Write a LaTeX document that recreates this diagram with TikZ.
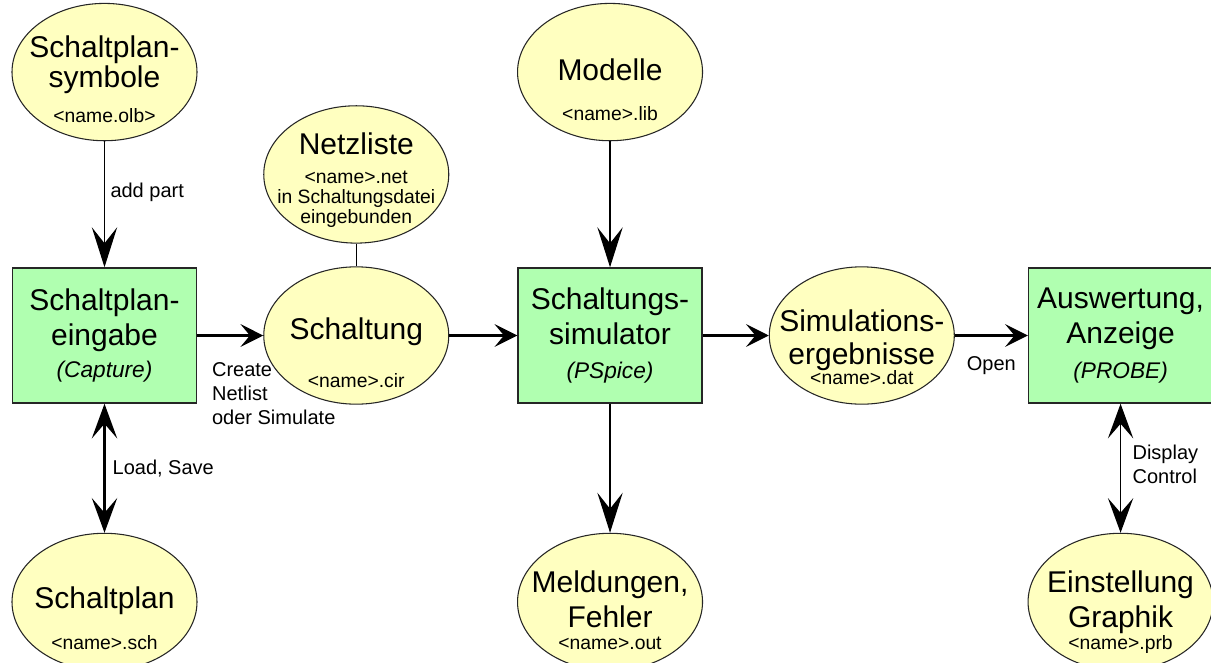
\documentclass[tikz,border=0pt]{standalone}
\usepackage{fontspec}
\setmainfont{Liberation Sans}
\usepackage{tikz}
\usetikzlibrary{positioning,shapes,arrows.meta}

\definecolor{boxgruen}{RGB}{176,255,176}
\definecolor{ovalgelb}{RGB}{255,255,192}
\newcommand{\titel}{\fontsize{22.5}{26}\selectfont}
\newcommand{\klein}{\fontsize{14.5}{16}\selectfont}
\newcommand{\prog}{\fontsize{17}{20}\selectfont\itshape}

\begin{document}
\begin{tikzpicture}[
    x=0.75pt,
    y=-0.75pt,
    >={Stealth[length=26pt,width=19pt,inset=11pt]},
    programm/.style={
        rectangle,
        draw=black!85,
        line width=1.1pt,
        fill=boxgruen,
        minimum width=138pt,
        minimum height=101.25pt,
        align=center,
        font=\titel
    },
    datei/.style={
        ellipse,
        draw=black!85,
        line width=0.8pt,
        fill=ovalgelb,
        minimum width=138.75pt,
        minimum height=103pt,
        inner sep=0pt
    },
    dateitext/.style={align=center, font=\titel, inner sep=0pt},
    duenn/.style={line width=1pt, -{Stealth[length=30pt,width=19pt,inset=12pt]}},
    dick/.style={line width=2.25pt, -{Stealth[length=17pt,width=17pt,inset=7pt]}},
    beschriftung/.style={font=\fontsize{15}{18}\selectfont, align=left, inner sep=4pt}
]
    \useasboundingbox[fill=white] (0,0) rectangle (1211,662);

    % Programme
    \node[programm] (capture) at (104.5,335.5) {Schaltplan-\\eingabe\\[-2pt]{\prog (Capture)}};
    \node[datei, right=49.5pt of capture,
        label={[dateitext, name=schaltung-text, yshift=-13pt]center:{Schaltung\\[10pt]\klein <name>.cir}}] (schaltung) {};
    \node[programm, right=51pt of schaltung] (simulator) {Schaltungs-\\simulator\\{\prog (PSpice)}};
    \node[datei, right=49.5pt of simulator,
        label={[dateitext, name=ergebnis-text, yshift=-9pt]center:{Simulations-\\[-1pt]ergebnisse\\[-11pt]\klein <name>.dat}}] (ergebnis) {};
    \node[programm, right=54.75pt of ergebnis] (auswertung) {Auswertung,\\Anzeige\\{\prog (PROBE)}};

    % Dateien oben und unten
    \node[datei, above=94.5pt of capture,
        label={[dateitext, name=symbole-text, yshift=-5.5pt]center:{Schaltplan-\\[-3.5pt]symbole\\\klein <name.olb>}}] (symbole) {};
    \node[datei, above=17pt of schaltung,
        label={[dateitext, name=netzliste-text, yshift=-4.5pt]center:{Netzliste\\[-4pt]\klein <name>.net\\[-11pt]\klein in Schaltungsdatei\\[-11pt]\klein eingebunden}}] (netzliste) {};
    \node[datei, above=94.5pt of simulator,
        label={[dateitext, name=modelle-text, yshift=-13.5pt]center:{Modelle\\[4pt]\klein <name>.lib}}] (modelle) {};
    \node[datei, below=96.75pt of capture,
        label={[dateitext, name=schaltplan-text, yshift=-12pt]center:{Schaltplan\\[5pt]\klein <name>.sch}}] (schaltplan) {};
    \node[datei, below=96.75pt of simulator,
        label={[dateitext, name=meldungen-text, yshift=-6pt]center:{Meldungen,\\Fehler\\[-9.5pt]\klein <name>.out}}] (meldungen) {};
    \node[datei, below=96.75pt of auswertung,
        label={[dateitext, name=einstellung-text, yshift=-7.5pt]center:{Einstellung\\Graphik\\[-9.5pt]\klein <name>.prb}}] (einstellung) {};

    % Verbindungen
    \draw[duenn] (symbole) -- node[beschriftung, right, yshift=9pt] {add part} (capture);
    \draw[dick] (capture) -- node[beschriftung, at start, anchor=north west, xshift=6pt, yshift=-15pt] {Create\\Netlist\\oder Simulate} (schaltung);
    \draw[line width=1pt] (netzliste) -- (schaltung);
    \draw[dick] (schaltung) -- (simulator);
    \draw[duenn] (modelle) -- (simulator);
    \draw[duenn] (simulator) -- (meldungen);
    \draw[dick] (simulator) -- (ergebnis);
    \draw[dick] (ergebnis) -- node[beschriftung, below, yshift=-10.5pt] {Open} (auswertung);
    \draw[line width=2.25pt, <->] (capture) -- node[beschriftung, right, xshift=1pt] {Load, Save} (schaltplan);
    \draw[line width=1pt, <->] (auswertung) -- node[beschriftung, right, xshift=4.5pt, yshift=3pt] {Display\\Control} (einstellung);
\end{tikzpicture}
\end{document}
